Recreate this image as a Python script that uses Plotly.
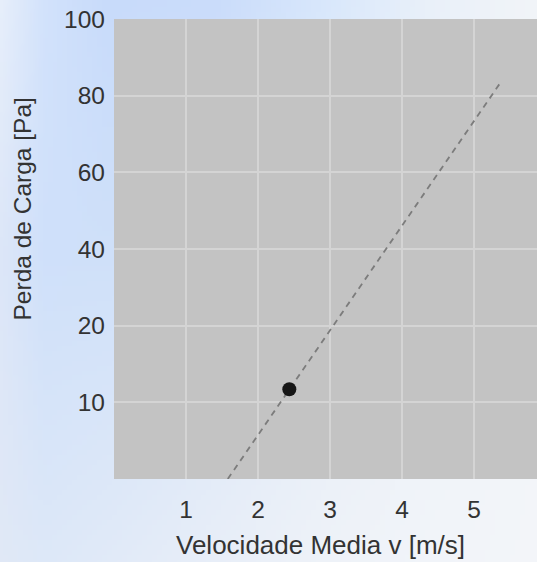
import base64
import struct
import zlib

import numpy as np
import plotly.graph_objects as go

# ---------------- data ----------------
x_ticks = [1, 2, 3, 4, 5]
y_tick_values = [10, 20, 40, 60, 80, 100]          # labels shown on the (non-uniform) y axis
y_scale_values = [0, 10, 20, 40, 60, 80, 100]      # values at each evenly spaced axis step
y_scale_steps = [-1, 0, 1, 2, 3, 4, 5]

line_v = [1.58, 5.36]      # Velocidade media [m/s] - dashed trend line
line_dp = [0.0, 83.2]      # Perda de carga [Pa]
point_v = [2.435]
point_dp = [11.7]


def to_axis(vals):
    return list(np.interp(vals, y_scale_values, y_scale_steps))


# ---------------- background gradient (generated PNG) ----------------
W, H = 537, 562
L, R, T, B = 114, 0, 19, 83
PW, PH = W - L - R, H - T - B


def hexrgb(h):
    h = h.lstrip("#")
    return np.array([int(h[i:i + 2], 16) for i in (0, 2, 4)], float)


gx = [0.0, 0.08, 0.2, 0.4, 0.6, 0.8, 1.0]
gy = [0.0, 0.45, 1.0]
grid = [
    ["#e6eefa", "#d2e2fb", "#c8dbfa", "#cadcfa", "#d8e7fb", "#e9f0f9", "#f1f4f8"],
    ["#dce6f8", "#cfe0fa", "#cfe0f9", "#d8e5f8", "#e4ecf8", "#edf2f8", "#f2f5f9"],
    ["#e0e8f6", "#dde8f8", "#e1eaf8", "#e8eef8", "#eef2f8", "#f1f4f9", "#f3f5f9"],
]
grid = np.array([[hexrgb(c) for c in row] for row in grid])

iw, ih = 108, 113
rows = []
for j in range(ih):
    fy = j / (ih - 1)
    row_cols = np.array([[np.interp(fy, gy, grid[:, k, ch]) for ch in range(3)] for k in range(len(gx))])
    line = bytearray()
    for i in range(iw):
        fx = i / (iw - 1)
        for ch in range(3):
            line.append(int(round(np.interp(fx, gx, row_cols[:, ch]))))
    rows.append(bytes(line))
raw = b"".join(b"\x00" + r for r in rows)


def chunk(t, d):
    c = struct.pack(">I", len(d)) + t + d
    return c + struct.pack(">I", zlib.crc32(t + d) & 0xFFFFFFFF)


png = (b"\x89PNG\r\n\x1a\n"
       + chunk(b"IHDR", struct.pack(">IIBBBBB", iw, ih, 8, 2, 0, 0, 0))
       + chunk(b"IDAT", zlib.compress(raw))
       + chunk(b"IEND", b""))
bg_uri = "data:image/png;base64," + base64.b64encode(png).decode()

# ---------------- figure ----------------
font_family = "Liberation Sans, Arial, sans-serif"
text_color = "#333333"

fig = go.Figure()
fig.add_trace(go.Scatter(
    x=line_v, y=to_axis(line_dp), mode="lines",
    line=dict(color="#7c7c7c", width=1.8, dash="6px,5px"),
    hoverinfo="skip", showlegend=False,
))
fig.add_trace(go.Scatter(
    x=point_v, y=to_axis(point_dp), mode="markers",
    marker=dict(color="#161616", size=14),
    showlegend=False,
))

fig.add_layout_image(dict(
    source=bg_uri, xref="paper", yref="paper",
    x=-L / PW, y=1 + T / PH, sizex=W / PW, sizey=H / PH,
    xanchor="left", yanchor="top", sizing="stretch", layer="below",
))
fig.add_shape(type="rect", xref="paper", yref="paper", x0=0, x1=1, y0=0, y1=1,
              fillcolor="#c3c3c3", line=dict(width=0), layer="below")

fig.add_annotation(text="Velocidade Media v [m/s]", xref="paper", yref="paper",
                   x=(320 - L) / PW, y=(H - B - 545) / PH, xanchor="center", yanchor="middle",
                   showarrow=False, font=dict(family=font_family, size=26, color=text_color))
fig.add_annotation(text="Perda de Carga [Pa]", xref="paper", yref="paper", textangle=-90,
                   x=(22 - L) / PW, y=(H - B - 209.5) / PH, xanchor="center", yanchor="middle",
                   showarrow=False, font=dict(family=font_family, size=24.5, color=text_color))

fig.update_xaxes(
    range=[0, PW / 72.0], tickvals=x_ticks, ticktext=[str(v) for v in x_ticks],
    showgrid=True, gridcolor="#d4d4d4", gridwidth=1.5, zeroline=False, showline=False,
    ticks="", ticklabelstandoff=13,
    tickfont=dict(family=font_family, size=24.5, color=text_color),
)
fig.update_yaxes(
    range=[-1, 5], tickvals=to_axis(y_tick_values), ticktext=[str(v) for v in y_tick_values],
    showgrid=True, gridcolor="#d4d4d4", gridwidth=1.5, zeroline=False, showline=False,
    ticks="", ticklabelstandoff=8,
    tickfont=dict(family=font_family, size=24.5, color=text_color),
)
fig.update_layout(
    width=W, height=H, autosize=False,
    margin=dict(l=L, r=R, t=T, b=B, pad=0),
    paper_bgcolor="#eef2f8", plot_bgcolor="#c3c3c3",
    font=dict(family=font_family, color=text_color),
)

fig.write_html(
    "out.html",
    config={"displayModeBar": False},
    post_script="document.body.style.margin='0';document.body.style.overflow='hidden';",
)
